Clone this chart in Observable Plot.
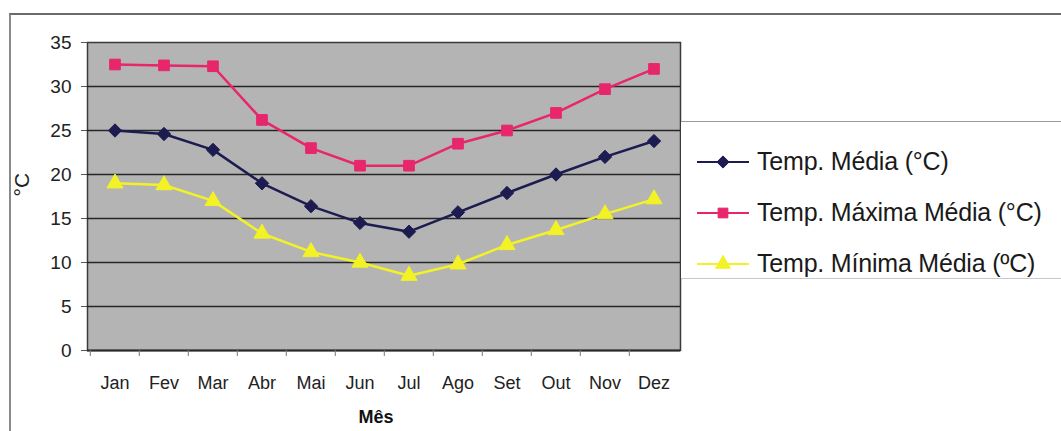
<!DOCTYPE html>
<html>
<head>
<meta charset="utf-8">
<script src="https://cdn.jsdelivr.net/npm/d3@7"></script>
<script src="https://cdn.jsdelivr.net/npm/@observablehq/plot@0.6"></script>
<style>
  html, body { margin: 0; padding: 0; background: #fff; }
  #wrap { position: relative; width: 1061px; height: 431px; overflow: hidden; font-family: "Liberation Sans", Arial, sans-serif; }
  #border { position: absolute; left: 9px; top: 13px; width: 1060px; height: 430px; border-left: 2px solid #8a8a8a; border-top: 2px solid #6a6a6a; }
  #chart { position: absolute; left: 0; top: 0; }
  #legend { position: absolute; left: 681px; top: 121px; width: 380px; height: 158px; border-top: 1px solid #9a9a9a; border-bottom: 1px solid #c8c8c8; background: #fff; box-sizing: border-box; padding-top: 14px; }
  .row { height: 51px; display: flex; align-items: center; }
  .row svg { margin-left: 16px; margin-right: 8px; }
  .row span { font-size: 25px; color: #1a1a1a; letter-spacing: -0.2px; }
  #xlabel { position: absolute; left: 0; width: 752px; text-align: center; top: 407px; font-weight: bold; font-size: 18px; line-height: 20px; color: #111; }
</style>
</head>
<body>
<div id="wrap">
  <div id="border"></div>
  <div id="chart"></div>
  <div id="legend"></div>
  <div id="xlabel"></div>
</div>
<script>
const months = ["Jan","Fev","Mar","Abr","Mai","Jun","Jul","Ago","Set","Out","Nov","Dez"];
const seriesNames = ["Temp. Média (°C)", "Temp. Máxima Média (°C)", "Temp. Mínima Média (ºC)"];
const tempMedia  = [25.0, 24.6, 22.8, 19.0, 16.4, 14.5, 13.5, 15.7, 17.9, 20.0, 22.0, 23.8];
const tempMaxima = [32.5, 32.4, 32.3, 26.2, 23.0, 21.0, 21.0, 23.5, 25.0, 27.0, 29.7, 32.0];
const tempMinima = [19.0, 18.8, 17.0, 13.3, 11.2, 10.0,  8.5,  9.8, 12.0, 13.7, 15.5, 17.2];
const yTicks = [0, 5, 10, 15, 20, 25, 30, 35];
const xTitle = "Mês";
const yTitle = "°C";

const colors = ["#1c1c50", "#e8266c", "#f2f226"];
const symbols = ["diamond2", "square", "triangle"];

const data = [];
[tempMedia, tempMaxima, tempMinima].forEach((arr, i) => {
  arr.forEach((v, j) => data.push({series: seriesNames[i], month: months[j], value: v}));
});

const W = 1061, H = 431, mL = 87, mR = 381, mT = 42, mB = 81;
const bw = (W - mL - mR) / months.length;

const chart = Plot.plot({
  width: W, height: H,
  marginLeft: mL, marginRight: mR, marginTop: mT, marginBottom: mB,
  style: { fontFamily: "'Liberation Sans', Arial, sans-serif", background: "transparent", color: "#222" },
  x: { type: "band", domain: months, padding: 0 },
  y: { domain: [0, 35] },
  color: { domain: seriesNames, range: colors },
  symbol: { domain: seriesNames, range: symbols },
  marks: [
    Plot.frame({ fill: "#b4b4b4", stroke: "#3a3a3a", strokeWidth: 1.5 }),
    Plot.ruleY(yTicks.filter(d => d > 0 && d < 35), { stroke: "#262626", strokeWidth: 1.5 }),
    Plot.ruleY([0], { stroke: "#2a2a2a", strokeWidth: 2 }),
    Plot.axisY({ ticks: yTicks, tickSize: 6, tickPadding: 10, fontSize: 19, label: null, stroke: "#555" }),
    Plot.axisX({ tickSize: 0, tickPadding: 26, fontSize: 18, label: null }),
    Plot.axisX({ tickSize: 6, text: null, label: null, dx: -bw / 2, stroke: "#777" }),
    Plot.text([yTitle], { frameAnchor: "left", dx: -65, rotate: -90, fontSize: 21, fill: "#222" }),
    Plot.line(data, { x: "month", y: "value", z: "series", stroke: "series", strokeWidth: 2.5 }),
    Plot.dot(data, { x: "month", y: "value", symbol: "series", fill: "series", stroke: "series", r: 6, strokeWidth: 1 })
  ]
});
document.getElementById("chart").appendChild(chart);

document.getElementById("xlabel").textContent = xTitle;

const legend = document.getElementById("legend");
seriesNames.forEach((name, i) => {
  const row = document.createElement("div");
  row.className = "row";
  const sw = d3.create("svg").attr("width", 52).attr("height", 20);
  sw.append("line").attr("x1", 0).attr("x2", 52).attr("y1", 10).attr("y2", 10)
    .attr("stroke", colors[i]).attr("stroke-width", 2);
  const symType = [d3.symbolDiamond2, d3.symbolSquare, d3.symbolTriangle][i];
  sw.append("path").attr("d", d3.symbol(symType, 95)()).attr("transform", "translate(26,10)")
    .attr("fill", colors[i]).attr("stroke", colors[i]);
  row.appendChild(sw.node());
  const t = document.createElement("span");
  t.textContent = name;
  row.appendChild(t);
  legend.appendChild(row);
});
</script>
</body>
</html>
